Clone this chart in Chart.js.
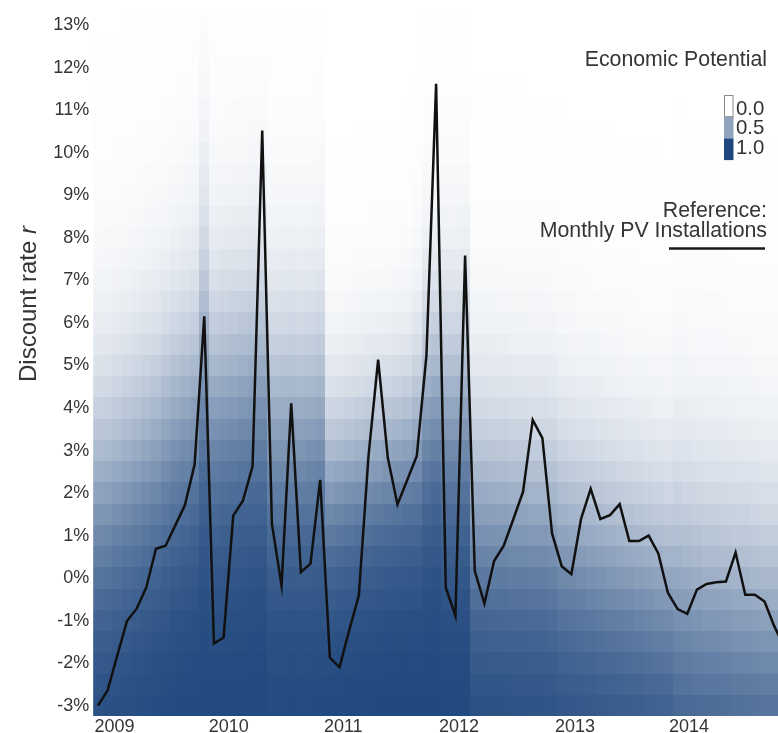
<!DOCTYPE html>
<html>
<head>
<meta charset="utf-8">
<title>Economic potential of PV vs. discount rate</title>
<script src="https://cdn.jsdelivr.net/npm/chart.js@4/dist/chart.umd.min.js"></script>
<style>
  html, body { margin: 0; padding: 0; background: #ffffff; overflow: hidden; }
  #wrap { position: relative; width: 778px; height: 733px; }
</style>
</head>
<body>
<div id="wrap"><canvas id="chart" width="778" height="733"></canvas></div>
<script>
// ---- data -----------------------------------------------------------------
// Months run Jan 2009 .. Dec 2014 (index 0 .. 71).
const yearLabels = ['2009', '2010', '2011', '2012', '2013', '2014'];
const yearTickAt = [1.71, 13.54, 25.39, 37.37, 49.38, 61.18];   // month index of each year label

// Discount-rate rows of the heatmap (percent) and axis ticks
const rateTicks = [-3, -2, -1, 0, 1, 2, 3, 4, 5, 6, 7, 8, 9, 10, 11, 12, 13];
const rateRows = [];
for (let r = -3; r <= 13; r += 0.5) rateRows.push(r);

// Monthly PV installations, scaled onto the discount-rate axis (percent units)
const installations = [
  -3.00, -2.64, -1.82, -1.01, -0.72, -0.22,  0.69,  0.76,  1.24,  1.72,  2.67,  6.16,   // 2009
  -1.54, -1.40,  1.47,  1.82,  2.63, 10.53,  1.28, -0.18,  4.11,  0.14,  0.34,  2.31,   // 2010
  -1.87, -2.10, -1.23, -0.41,  2.87,  5.14,  2.83,  1.73,  2.30,  2.87,  5.24, 11.63,   // 2011
  -0.22, -0.89,  7.59,  0.17, -0.60,  0.40,  0.76,  1.39,  2.03,  3.72,  3.29,  1.05,   // 2012
   0.28,  0.09,  1.39,  2.10,  1.39,  1.48,  1.74,  0.87,  0.87,  1.00,  0.58, -0.35,   // 2013
  -0.73, -0.84, -0.27, -0.14, -0.10, -0.08,  0.60, -0.39, -0.39, -0.55, -1.13, -1.60    // 2014
];

// Economic potential per month: discount rate (%) at which half of the systems
// are still economic, and how quickly the share falls off around that rate.
const potentialMid = [
  2.0, 2.1, 2.3, 2.5, 2.7, 2.9, 3.1, 3.4, 3.7, 3.9, 4.1, 5.3,        // 2009
  4.2, 4.3, 4.4, 4.5, 4.6, 4.7, 3.6, 3.6, 3.7, 3.6, 3.7, 3.8,        // 2010
  2.3, 2.4, 2.5, 2.6, 2.7, 2.8, 2.9, 3.0, 3.1, 3.3, 4.1, 4.3,        // 2011
  3.9, 3.9, 4.0, 1.7, 1.7, 1.6, 1.6, 1.5, 1.5, 1.4, 1.4, 1.3,        // 2012
  1.0, 0.9, 0.8, 0.7, 0.6, 0.5, 0.4, 0.3, 0.2, 0.1, 0.0, -0.1,       // 2013
  -0.2, -0.3, -0.4, -0.5, -0.5, -0.6, -0.7, -0.7, -0.8, -0.9, -0.9, -1.0 // 2014
];
const potentialSpread = [
  1.8, 1.8, 1.8, 1.8, 1.8, 1.8, 1.8, 1.8, 1.8, 1.8, 1.8, 2.0,
  1.8, 1.8, 1.8, 1.8, 1.8, 1.8, 1.8, 1.8, 1.8, 1.8, 1.8, 1.8,
  1.35, 1.35, 1.35, 1.35, 1.35, 1.35, 1.35, 1.35, 1.35, 1.45, 1.6, 1.6,
  1.7, 1.7, 1.7, 1.7, 1.7, 1.7, 1.7, 1.7, 1.7, 1.7, 1.7, 1.7,
  1.7, 1.7, 1.7, 1.7, 1.7, 1.7, 1.7, 1.7, 1.7, 1.7, 1.7, 1.7,
  1.9, 1.9, 1.9, 1.9, 1.9, 1.9, 1.9, 1.9, 1.9, 1.9, 1.9, 1.9
];

// Key entries
const keyTitle = 'Economic Potential';
const keySteps = [0.0, 0.5, 1.0];
const refTitle = ['Reference:', 'Monthly PV Installations'];
const yTitle = 'Discount rate ';
const yTitleVar = 'r';

// ---- styling ----------------------------------------------------------------
const FONT = '"Liberation Sans", Arial, Helvetica, sans-serif';
const TEXT = '#353535';
const DARK = [31, 71, 125];

function shade(v) {
  const c = DARK.map(d => Math.round(255 + (d - 255) * v));
  return `rgb(${c[0]},${c[1]},${c[2]})`;
}

function potentialAt(month, rate) {
  return 1 / (1 + Math.exp((rate - potentialMid[month]) / potentialSpread[month]));
}

// Heatmap cells, placed through the chart's own x / y scales
const heatmapPlugin = {
  id: 'potentialHeatmap',
  beforeDatasetsDraw(chart) {
    const { ctx, chartArea: a, scales: { x, y } } = chart;
    ctx.save();
    ctx.beginPath();
    ctx.rect(a.left, a.top, a.right - a.left, a.bottom - a.top);
    ctx.clip();
    potentialMid.forEach((_, m) => {
      const x0 = Math.round(x.getPixelForValue(m - 0.5));
      const x1 = Math.round(x.getPixelForValue(m + 0.5));
      rateRows.forEach(r => {
        const y0 = Math.round(y.getPixelForValue(r + 0.25));
        const y1 = Math.round(y.getPixelForValue(r - 0.25));
        ctx.fillStyle = shade(potentialAt(m, r));
        ctx.fillRect(x0, y0, x1 - x0, y1 - y0);
      });
    });
    ctx.restore();
  }
};

// Axis title with italic variable, and the key in the upper right
const annotationPlugin = {
  id: 'titleAndKey',
  afterDraw(chart) {
    const ctx = chart.ctx;
    ctx.save();
    ctx.fillStyle = TEXT;

    // rotated y-axis title
    ctx.save();
    ctx.translate(36, 304);
    ctx.rotate(-Math.PI / 2);
    ctx.textBaseline = 'alphabetic';
    ctx.textAlign = 'left';
    const fN = `24px ${FONT}`, fI = `italic 24px ${FONT}`;
    ctx.font = fN; const w1 = ctx.measureText(yTitle).width;
    ctx.font = fI; const w2 = ctx.measureText(yTitleVar).width;
    const sx = -(w1 + w2) / 2;
    ctx.font = fN; ctx.fillText(yTitle, sx, 0);
    ctx.font = fI; ctx.fillText(yTitleVar, sx + w1, 0);
    ctx.restore();

    // key title
    ctx.textAlign = 'right';
    ctx.textBaseline = 'alphabetic';
    ctx.font = `21.3px ${FONT}`;
    ctx.fillText(keyTitle, 767, 66);

    // colour steps
    const bx = 724, bw = 9.5, bh = 21.7, by = 95;
    keySteps.forEach((v, i) => {
      ctx.fillStyle = shade(v);
      ctx.fillRect(bx, by + i * bh, bw, bh);
    });
    ctx.strokeStyle = '#8a8a8a';
    ctx.lineWidth = 1;
    ctx.strokeRect(bx + 0.5, by + 0.5, bw - 1, bh - 0.5);
    ctx.fillStyle = TEXT;
    ctx.textAlign = 'left';
    ctx.font = `20.4px ${FONT}`;
    keySteps.forEach((v, i) => {
      ctx.fillText(v.toFixed(1), 736, 115 + i * 19.3);
    });

    // reference line entry
    ctx.textAlign = 'right';
    ctx.font = `21.3px ${FONT}`;
    ctx.fillText(refTitle[0], 767, 217);
    ctx.fillText(refTitle[1], 767, 237);
    ctx.strokeStyle = '#1a1a1a';
    ctx.lineWidth = 2.6;
    ctx.beginPath();
    ctx.moveTo(669, 248.5);
    ctx.lineTo(765, 248.5);
    ctx.stroke();
    ctx.restore();
  }
};

const X_MIN = -0.5, X_MAX = 70.39;

new Chart(document.getElementById('chart'), {
  type: 'scatter',
  data: {
    datasets: [{
      label: refTitle[1],
      data: installations.map((v, i) => ({ x: i, y: v })),
      showLine: true,
      borderColor: '#111111',
      borderWidth: 2.5,
      pointRadius: 0,
      pointHoverRadius: 0,
      tension: 0,
      borderJoinStyle: 'miter'
    }]
  },
  options: {
    responsive: false,
    animation: false,
    devicePixelRatio: 1,
    layout: { padding: { top: 6.75, right: 0, bottom: 0, left: 0 } },
    plugins: { legend: { display: false }, tooltip: { enabled: false } },
    scales: {
      x: {
        type: 'linear',
        min: X_MIN,
        max: X_MAX,
        grid: { display: false, drawTicks: false },
        border: { display: false },
        afterBuildTicks: s => { s.ticks = yearTickAt.map(v => ({ value: v })); },
        afterFit: s => { s.height = 16.75; },
        ticks: {
          autoSkip: false,
          maxRotation: 0,
          padding: 0,
          color: TEXT,
          font: { family: FONT, size: 18 },
          callback: (v, i) => yearLabels[i]
        }
      },
      y: {
        type: 'linear',
        min: -3.25,
        max: 13.25,
        grid: { display: false, drawTicks: false },
        border: { display: false },
        afterBuildTicks: s => { s.ticks = rateTicks.map(v => ({ value: v })); },
        afterFit: s => { s.width = 93.17; },
        ticks: {
          padding: 4,
          color: TEXT,
          font: { family: FONT, size: 18 },
          callback: v => v + '%'
        }
      }
    }
  },
  plugins: [heatmapPlugin, annotationPlugin]
});
</script>
</body>
</html>
